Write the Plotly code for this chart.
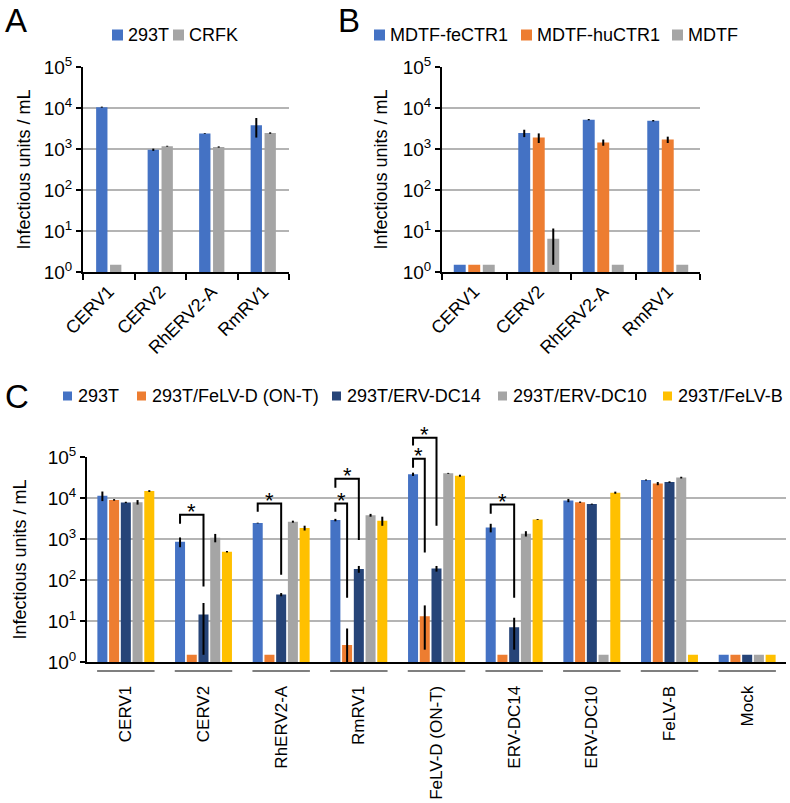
import math
import plotly.graph_objects as go

W, H = 790, 803
FONT = "Liberation Sans, Arial, Helvetica, sans-serif"

# ---------------- data ----------------
a_categories = ["CERV1", "CERV2", "RhERV2-A", "RmRV1"]
a_names = ["293T", "CRFK"]
a_293t = [10500, 960, 2400, 3800]
a_293t_err = [300, 60, 50, 1900]
a_crfk = [1.5, 1170, 1120, 2450]
a_crfk_err = [0, 30, 40, 100]

b_categories = ["CERV1", "CERV2", "RhERV2-A", "RmRV1"]
b_names = ["MDTF-feCTR1", "MDTF-huCTR1", "MDTF"]
b_fectr1 = [1.5, 2450, 5200, 4900]
b_fectr1_err = [0, 500, 200, 200]
b_huctr1 = [1.5, 1900, 1450, 1700]
b_huctr1_err = [0, 500, 250, 300]
b_mdtf = [1.5, 6.5, 1.5, 1.5]
b_mdtf_err = [0, 5, 0, 0]

c_categories = ["CERV1", "CERV2", "RhERV2-A", "RmRV1", "FeLV-D (ON-T)",
                "ERV-DC14", "ERV-DC10", "FeLV-B", "Mock"]
c_names = ["293T", "293T/FeLV-D (ON-T)", "293T/ERV-DC14", "293T/ERV-DC10", "293T/FeLV-B"]
c_293t = [11400, 860, 2450, 2900, 38000, 1900, 8700, 27500, 1.5]
c_293t_err = [3000, 230, 50, 200, 3500, 450, 800, 800, 0]
c_felvd = [9000, 1.5, 1.5, 2.6, 13, 1.5, 7900, 22500, 1.5]
c_felvd_err = [400, 0, 0, 4, 11, 0, 300, 2000, 0]
c_dc14 = [7800, 14.5, 44, 185, 190, 7, 7100, 24500, 1.5]
c_dc14_err = [300, 13, 4, 35, 30, 5, 200, 1000, 0]
c_dc10 = [7900, 1080, 2650, 3800, 40000, 1350, 1.5, 31500, 1.5]
c_dc10_err = [1000, 250, 150, 300, 1000, 200, 0, 1500, 0]
c_felvb = [14800, 490, 1860, 2800, 35000, 3000, 13500, 1.5, 1.5]
c_felvb_err = [700, 20, 250, 700, 2000, 80, 800, 0, 0]

# significance brackets: (category index, from bar, to bar, top, left end, right end)
c_sig = [
    (1, 0, 2, 3900, 2350, 69),
    (2, 0, 2, 7300, 4650, 135),
    (3, 0, 1, 7300, 4650, 37),
    (3, 0, 2, 29500, 17800, 950),
    (4, 0, 1, 91000, 55000, 470),
    (4, 0, 2, 295000, 190000, 2100),
    (5, 0, 2, 6900, 4150, 37),
]

tick_vals = [1, 10, 100, 1000, 10000, 100000]
tick_text = ["10<sup>%d</sup>" % i for i in range(6)]
y_title = "Infectious units / mL"

BLUE, ORANGE, GREY, NAVY, YELLOW = "#4472C4", "#ED7D31", "#A5A5A5", "#264478", "#FFC000"

# ---------------- layout geometry (pixels) ----------------
A_X = (83, 289)
B_X = (442, 700)
AB_Y = (67, 272)     # top, bottom
C_X = (87, 786)
C_Y = (457, 662)


def px(x):
    return x / W


def py(y):
    return 1 - y / H


fig = go.Figure()


def add_bars(xa, ya, cats, series, errs, names, colors, width, slot):
    n = len(series)
    for k in range(n):
        off = (k - (n - 1) / 2) * slot - width / 2
        fig.add_trace(go.Bar(
            x=cats, y=series[k], name=names[k], xaxis=xa, yaxis=ya,
            width=width, offset=off, showlegend=False,
            marker=dict(color=colors[k], line=dict(width=0)),
            error_y=dict(type="data", array=errs[k], visible=True,
                         color="black", thickness=2, width=0),
        ))


add_bars("x", "y", a_categories, [a_293t, a_crfk], [a_293t_err, a_crfk_err],
         a_names, [BLUE, GREY], 0.22, 0.27)
add_bars("x2", "y2", b_categories, [b_fectr1, b_huctr1, b_mdtf],
         [b_fectr1_err, b_huctr1_err, b_mdtf_err], b_names, [BLUE, ORANGE, GREY], 0.185, 0.225)
C_WIDTH, C_SLOT = 0.129, 0.151
add_bars("x3", "y3", c_categories, [c_293t, c_felvd, c_dc14, c_dc10, c_felvb],
         [c_293t_err, c_felvd_err, c_dc14_err, c_dc10_err, c_felvb_err],
         c_names, [BLUE, ORANGE, NAVY, GREY, YELLOW], C_WIDTH, C_SLOT)

yax_common = dict(type="log", range=[0, 5], tickvals=tick_vals, ticktext=tick_text,
                  ticks="outside", ticklen=5, tickwidth=2, tickcolor="black",
                  showline=True, linecolor="black", linewidth=2, automargin=False,
                  showgrid=True, gridcolor="#B4B4B4", gridwidth=2,
                  tickfont=dict(size=19, color="black", family=FONT), zeroline=False)
xab_common = dict(type="category", tickson="boundaries", ticks="outside", ticklen=6,
                  tickwidth=2, tickcolor="black", showline=True, linecolor="black",
                  linewidth=2, showgrid=False, tickangle=-45, range=[-0.5, 3.5],
                  automargin=False, tickfont=dict(size=18, color="black", family=FONT))

fig.update_layout(
    template="none",
    width=W, height=H, autosize=False,
    margin=dict(l=0, r=0, t=0, b=0, pad=0),
    paper_bgcolor="white", plot_bgcolor="white",
    font=dict(family=FONT, color="black"),
    barmode="overlay", showlegend=False,
    xaxis=dict(domain=[px(A_X[0]), px(A_X[1])], anchor="y", **xab_common),
    yaxis=dict(domain=[py(AB_Y[1]), py(AB_Y[0])], anchor="x", **yax_common),
    xaxis2=dict(domain=[px(B_X[0]), px(B_X[1])], anchor="y2", **xab_common),
    yaxis2=dict(domain=[py(AB_Y[1]), py(AB_Y[0])], anchor="x2", **yax_common),
    xaxis3=dict(domain=[px(C_X[0]), px(C_X[1])], anchor="y3", type="category",
                ticks="", showline=True, linecolor="black", linewidth=2, showgrid=False,
                tickangle=-90, range=[-0.5, 8.5], ticklabelstandoff=15, automargin=False,
                tickfont=dict(size=17, color="black", family=FONT)),
    yaxis3=dict(domain=[py(C_Y[1]), py(C_Y[0])], anchor="x3", **yax_common),
)

shapes = []
annotations = []

# panel letters
for letter, lx, ly in [("A", 3, 21), ("B", 336, 21), ("C", 3, 396)]:
    annotations.append(dict(text=letter, x=px(lx), y=py(ly), xref="paper", yref="paper",
                            xanchor="left", yanchor="middle", showarrow=False,
                            font=dict(size=33, color="black", family=FONT)))

# y-axis titles
for tx, ty in [(24, (AB_Y[0] + AB_Y[1]) / 2), (381, (AB_Y[0] + AB_Y[1]) / 2),
               (19, (C_Y[0] + C_Y[1]) / 2)]:
    annotations.append(dict(text=y_title, x=px(tx), y=py(ty), xref="paper", yref="paper",
                            xanchor="center", yanchor="middle", textangle=-90, showarrow=False,
                            font=dict(size=18, color="black", family=FONT)))


# manual legends
def legend(items, cy, size, text_gap, fsize):
    for name, color, sx in items:
        shapes.append(dict(type="rect", xref="paper", yref="paper",
                           x0=px(sx), x1=px(sx + size), y0=py(cy - size / 2), y1=py(cy + size / 2),
                           fillcolor=color, line=dict(width=0)))
        annotations.append(dict(text=name, x=px(sx + size + text_gap), y=py(cy),
                                xref="paper", yref="paper", xanchor="left", yanchor="middle",
                                showarrow=False, font=dict(size=fsize, color="black", family=FONT)))


legend(list(zip(a_names, [BLUE, GREY], [112, 173])), 35, 11, 3, 18)
legend(list(zip(b_names, [BLUE, ORANGE, GREY], [374, 521, 672])), 35, 11, 3, 18)
legend(list(zip(c_names, [BLUE, ORANGE, NAVY, GREY, YELLOW], [63, 137, 332, 498, 663])),
       396, 9, 4, 18)

# panel C helpers
cw = (C_X[1] - C_X[0]) / len(c_categories)


def c_xpx(i, k):
    return C_X[0] + (i + 0.5 + (k - 2) * C_SLOT) * cw


def c_ypx(v):
    return C_Y[1] - math.log10(v) / 5 * (C_Y[1] - C_Y[0])


# category underlines
for i in range(len(c_categories)):
    cx = C_X[0] + (i + 0.5) * cw
    shapes.append(dict(type="line", xref="paper", yref="paper",
                       x0=px(cx - 0.37 * cw), x1=px(cx + 0.37 * cw), y0=py(671), y1=py(671),
                       line=dict(color="#7F7F7F", width=2)))

# significance brackets
for i, k0, k1, top, lb, rb in c_sig:
    xl, xr = c_xpx(i, k0), c_xpx(i, k1)
    yt, yl, yr = c_ypx(top), c_ypx(lb), c_ypx(rb)
    path = "M %f,%f L %f,%f L %f,%f L %f,%f" % (px(xl), py(yl), px(xl), py(yt),
                                                px(xr), py(yt), px(xr), py(yr))
    shapes.append(dict(type="path", xref="paper", yref="paper", path=path,
                       line=dict(color="black", width=2)))
    annotations.append(dict(text="*", x=px((xl + xr) / 2), y=py(yt - 9 + 6),
                            xref="paper", yref="paper", xanchor="center", yanchor="middle",
                            showarrow=False, font=dict(size=22, color="black", family=FONT)))

fig.update_layout(shapes=shapes, annotations=annotations)
fig.write_html("out.html", config={"displayModeBar": False},
               post_script="document.body.style.margin='0px';"
                           "document.body.style.overflow='hidden';")
